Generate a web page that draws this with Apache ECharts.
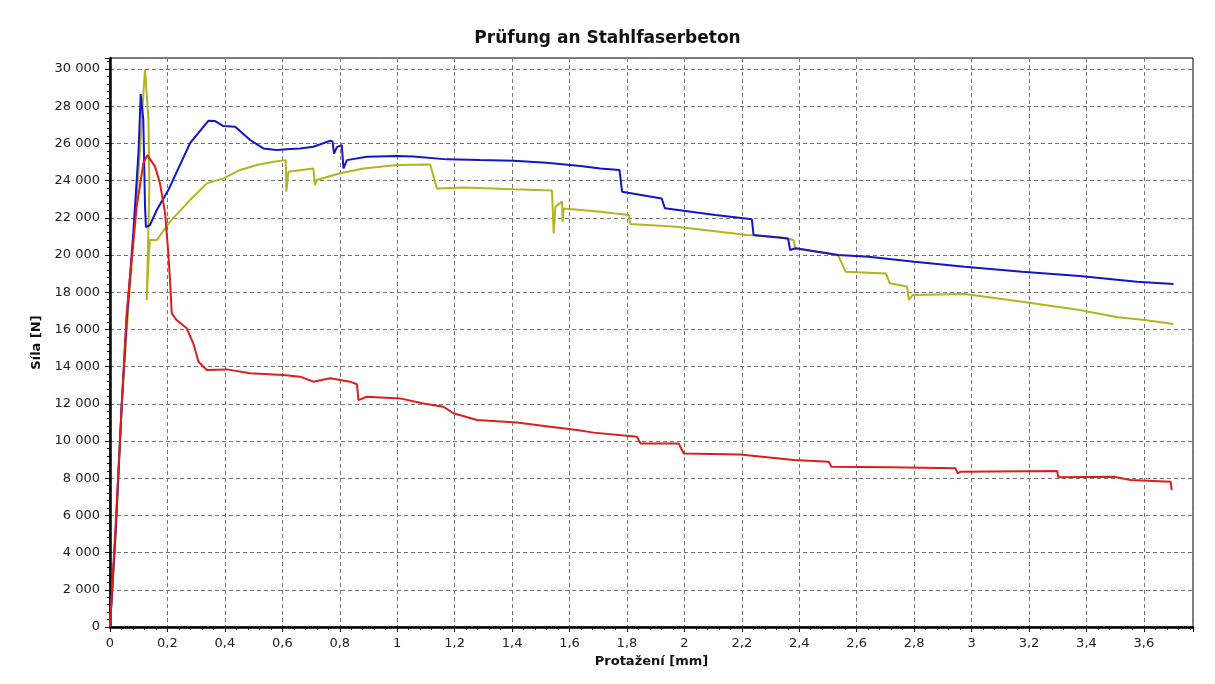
<!DOCTYPE html>
<html>
<head>
<meta charset="utf-8">
<script src="https://cdn.jsdelivr.net/npm/echarts@6/dist/echarts.min.js"></script>
<style>
html,body{margin:0;padding:0;background:#fff;}
#chart{width:1215px;height:684px;}
</style>
</head>
<body>
<div id="chart"></div>
<script>
// Chart texts
const chartTitle = 'Prüfung an Stahlfaserbeton';
const xAxisName = 'Protažení [mm]';
const yAxisName = 'Síla [N]';

// Axis ranges / ticks
const xMin = 0, xMax = 3.771, xStep = 0.2;
const yMin = 0, yMax = 30590, yStep = 2000;

// Series: [Protažení (mm), Síla (N)]
const blueData = [
  [0,0],[0.02,5200],[0.041,12000],[0.058,16500],[0.081,21160],[0.099,25470],[0.107,28650],
  [0.116,27260],[0.122,22600],[0.125,21500],[0.139,21610],[0.163,22420],[0.203,23490],
  [0.279,26020],[0.343,27220],[0.366,27200],[0.395,26930],[0.436,26900],[0.488,26180],
  [0.534,25730],[0.58,25640],[0.627,25700],[0.662,25730],[0.708,25820],[0.767,26140],
  [0.775,26100],[0.78,25450],[0.79,25800],[0.807,25910],[0.813,24660],[0.825,25100],
  [0.894,25280],[0.999,25320],[1.056,25290],[1.173,25140],[1.289,25100],[1.405,25070],
  [1.52,24960],[1.638,24780],[1.707,24650],[1.774,24570],[1.783,23400],[1.921,23040],
  [1.932,22510],[2.108,22150],[2.235,21920],[2.241,21070],[2.361,20890],[2.368,20270],
  [2.388,20360],[2.535,20000],[2.641,19910],[2.801,19640],[2.976,19370],[3.176,19100],
  [3.376,18870],[3.576,18560],[3.703,18440]
];
const yellowData = [
  [0,0],[0.02,5000],[0.041,12000],[0.06,16300],[0.08,20500],[0.104,25470],[0.114,28150],
  [0.122,29980],[0.134,27260],[0.137,23670],[0.128,17580],[0.135,20000],[0.139,20800],
  [0.163,20800],[0.209,21790],[0.279,22960],[0.337,23850],[0.395,24120],[0.453,24570],
  [0.511,24840],[0.569,25010],[0.612,25100],[0.614,23400],[0.621,24470],[0.708,24650],
  [0.714,23760],[0.72,24030],[0.801,24390],[0.883,24650],[0.999,24840],[1.115,24870],
  [1.138,23580],[1.231,23630],[1.405,23530],[1.539,23460],[1.545,21160],[1.551,22600],
  [1.574,22870],[1.576,21790],[1.58,22500],[1.707,22330],[1.754,22240],[1.806,22150],
  [1.812,21670],[1.974,21520],[2.218,21070],[2.334,20950],[2.381,20800],[2.386,20350],
  [2.535,20000],[2.548,19560],[2.561,19100],[2.702,19010],[2.715,18480],[2.775,18300],
  [2.782,17580],[2.795,17850],[2.976,17900],[3.176,17490],[3.376,17040],[3.509,16650],
  [3.603,16500],[3.703,16290]
];
const redData = [
  [0,0],[0.02,5600],[0.041,12000],[0.058,16860],[0.08,20500],[0.093,22600],[0.116,24930],
  [0.13,25370],[0.157,24750],[0.174,23850],[0.192,22240],[0.203,20090],[0.209,18650],
  [0.215,16860],[0.232,16500],[0.267,16060],[0.29,15250],[0.308,14260],[0.337,13820],
  [0.407,13850],[0.488,13640],[0.604,13550],[0.662,13460],[0.708,13190],[0.767,13370],
  [0.836,13190],[0.86,13050],[0.865,12200],[0.894,12380],[1.01,12290],[1.092,12020],
  [1.161,11840],[1.196,11490],[1.278,11130],[1.417,10990],[1.533,10770],[1.626,10590],
  [1.684,10450],[1.835,10230],[1.847,9870],[1.98,9870],[1.998,9330],[2.195,9270],
  [2.381,8980],[2.503,8890],[2.511,8620],[2.718,8590],[2.944,8530],[2.952,8260],
  [2.962,8350],[3.298,8390],[3.302,8050],[3.496,8080],[3.554,7900],[3.693,7810],[3.697,7365]
];

const seriesColors = {blue:'#1414c8', yellow:'#b4b41e', red:'#dc1e1e'};

function near(v, step){ return Math.abs(v/step - Math.round(v/step)) < 1e-6; }

const chart = echarts.init(document.getElementById('chart'), null, {renderer:'canvas'});
const labelFont = {fontFamily:'DejaVu Sans', fontSize:13, color:'#222'};
const nameFont = {fontFamily:'DejaVu Sans', fontWeight:'bold', fontSize:13, color:'#111'};
chart.setOption({
  backgroundColor:'#fff',
  animation:false,
  title:{
    text: chartTitle, left:'center', top:25,
    textStyle:{fontFamily:'DejaVu Sans', fontWeight:'bold', fontSize:17, color:'#111'}
  },
  grid:{left:110, top:58, width:1083, height:569, show:true, borderColor:'#000', borderWidth:1, backgroundColor:'transparent'},
  xAxis:{
    type:'value', min:xMin, max:xMax, interval:xStep,
    name:xAxisName, nameLocation:'middle', nameGap:28,
    nameTextStyle:nameFont,
    axisLine:{show:true, onZero:false, lineStyle:{color:'#000', width:2.5}},
    axisTick:{show:true, length:5, lineStyle:{color:'#000'}},
    minorTick:{show:true, splitNumber:5, length:3, lineStyle:{color:'#000'}},
    axisLabel:Object.assign({margin:10, formatter:function(v){
      if(!near(v,xStep)) return '';
      return String(+v.toFixed(1)).replace('.',',');
    }}, labelFont),
    splitLine:{show:true, lineStyle:{color:'#777', type:[4,3], width:1}}
  },
  yAxis:{
    type:'value', min:yMin, max:yMax, interval:yStep,
    name:yAxisName, nameLocation:'middle', nameGap:66, nameRotate:90,
    nameTextStyle:nameFont,
    axisLine:{show:true, onZero:false, lineStyle:{color:'#000', width:2.5}},
    axisTick:{show:true, length:5, lineStyle:{color:'#000'}},
    minorTick:{show:true, splitNumber:5, length:3, lineStyle:{color:'#000'}},
    axisLabel:Object.assign({margin:10, formatter:function(v){
      if(!near(v,yStep)) return '';
      return String(Math.round(v)).replace(/\B(?=(\d{3})+(?!\d))/g,' ');
    }}, labelFont),
    splitLine:{show:true, lineStyle:{color:'#777', type:[4,3], width:1}}
  },
  series:[
    {name:'yellow', type:'line', data:yellowData, showSymbol:false, lineStyle:{color:seriesColors.yellow, width:2}, itemStyle:{color:seriesColors.yellow}},
    {name:'blue', type:'line', data:blueData, showSymbol:false, lineStyle:{color:seriesColors.blue, width:2}, itemStyle:{color:seriesColors.blue}},
    {name:'red', type:'line', data:redData, showSymbol:false, lineStyle:{color:seriesColors.red, width:2}, itemStyle:{color:seriesColors.red}}
  ]
});
</script>
</body>
</html>
